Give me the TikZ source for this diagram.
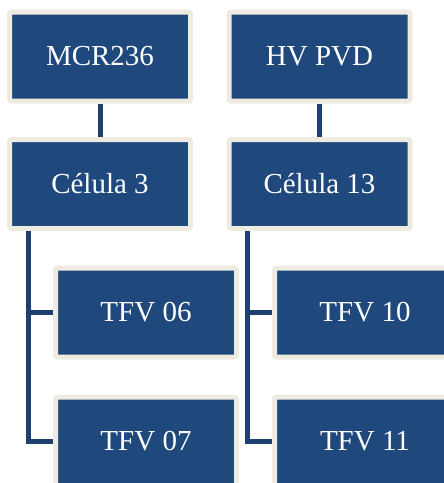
\documentclass[tikz,border=0pt]{standalone}
\usepackage{fontspec}
\setmainfont{Liberation Serif}
\definecolor{boxfill}{RGB}{31,73,125}
\definecolor{boxedge}{RGB}{238,236,225}
\definecolor{linkcol}{RGB}{30,64,110}
\begin{document}
\begin{tikzpicture}[x=1pt,y=-1pt,
  orgbox/.style={draw=boxedge, fill=boxfill, line width=5pt, rounded corners=2pt,
    minimum width=181pt, minimum height=89pt, text=white,
    font=\fontsize{29}{34}\selectfont, inner sep=0pt},
  link/.style={draw=linkcol, line width=5pt}]
\useasboundingbox (0,0) rectangle (444,483);
\clip (0,0) rectangle (444,483);
\node[orgbox] (mcr) at (100,56.5) {MCR236};
\node[orgbox] (hv) at (319.5,56.5) {HV PVD};
\node[orgbox] (c3) at (100,184) {Célula 3};
\node[orgbox] (c13) at (319.5,184) {Célula 13};
\node[orgbox] (t06) at (146,312.5) {TFV 06};
\node[orgbox] (t07) at (146,441.5) {TFV 07};
\node[orgbox] (t10) at (365,312.5) {TFV 10};
\node[orgbox] (t11) at (365,441.5) {TFV 11};
\draw[link] (mcr) -- (c3);
\draw[link] (hv) -- (c13);
\coordinate (la) at (28,231);
\coordinate (ra) at (247,231);
\draw[link] (la) |- (t06.west);
\draw[link] (la) |- (t07.west);
\draw[link] (ra) |- (t10.west);
\draw[link] (ra) |- (t11.west);
\end{tikzpicture}
\end{document}
